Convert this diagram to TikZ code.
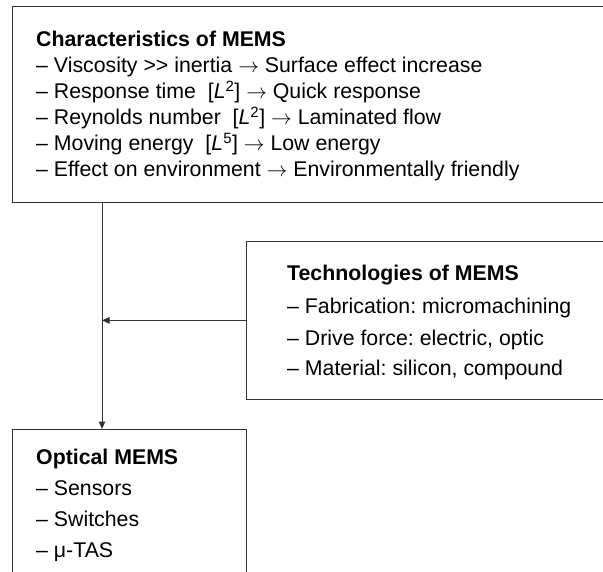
\documentclass[tikz,border=0pt]{standalone}
\usepackage{fontspec}
\setmainfont{Liberation Sans}
\usetikzlibrary{arrows.meta}
\frenchspacing
\begin{document}
\begin{tikzpicture}[x=1pt,y=-1pt,
  boxline/.style={draw=black!80,line width=1.1pt},
  txt/.style={anchor=base west,inner sep=0pt,font=\fontsize{21.3}{25}\selectfont},
  head/.style={txt,font=\fontsize{21.3}{25}\selectfont\bfseries},
  conn/.style={draw=black!80,line width=1pt},
  tip/.style={-{Triangle[length=7.5pt,width=6.5pt]}}]
\useasboundingbox (0,0) rectangle (603,572);
\begin{scope}
\clip (0,0) rectangle (603,572);
% boxes
\node[boxline,anchor=north west,inner sep=0pt,minimum width=620pt,minimum height=196.3pt] (charbox) at (12,5.7) {};
\node[boxline,anchor=north west,inner sep=0pt,minimum width=380pt,minimum height=158.3pt] (techbox) at (245.7,240.7) {};
\node[boxline,anchor=north west,inner sep=0pt,minimum width=233.7pt,minimum height=160pt] (optbox) at (12,429) {};
\end{scope}
% characteristics text
\node[head] (c0) at (36,47) {Characteristics of MEMS};
\node[txt] (c1) at (36,73) {– Viscosity {>}{>} inertia $\rightarrow$ Surface effect increase};
\node[txt] (c2) at (36,99) {– Response time\ \ [\textit{L}\textsuperscript{2}] $\rightarrow$ Quick response};
\node[txt] (c3) at (36,125) {– Reynolds number\ \ [\textit{L}\textsuperscript{2}] $\rightarrow$ Laminated flow};
\node[txt] (c4) at (36,151) {– Moving energy\ \ [\textit{L}\textsuperscript{5}] $\rightarrow$ Low energy};
\node[txt] (c5) at (36,177) {– Effect on environment $\rightarrow$ Environmentally friendly};
% technologies text
\node[head] (t0) at (287,281) {Technologies of MEMS};
\node[txt] (t1) at (287,314) {– Fabrication: micromachining};
\node[txt] (t2) at (287,345) {– Drive force: electric, optic};
\node[txt] (t3) at (287,376) {– Material: silicon, compound};
% optical text
\node[head] (o0) at (36,464.5) {Optical MEMS};
\node[txt] (o1) at (36,495.5) {– Sensors};
\node[txt] (o2) at (36,526) {– Switches};
\node[txt] (o3) at (36,557.5) {– μ-TAS};
% connectors
\coordinate (top) at (charbox.south west -| 102,0);
\coordinate (bot) at (optbox.north west -| 102,0);
\coordinate (join) at (102,0 |- techbox.west);
\coordinate (tleft) at (techbox.north west |- join);
\draw[conn,tip] (top) -- (bot);
\draw[conn,tip] (tleft) -- (join);
\end{tikzpicture}
\end{document}
